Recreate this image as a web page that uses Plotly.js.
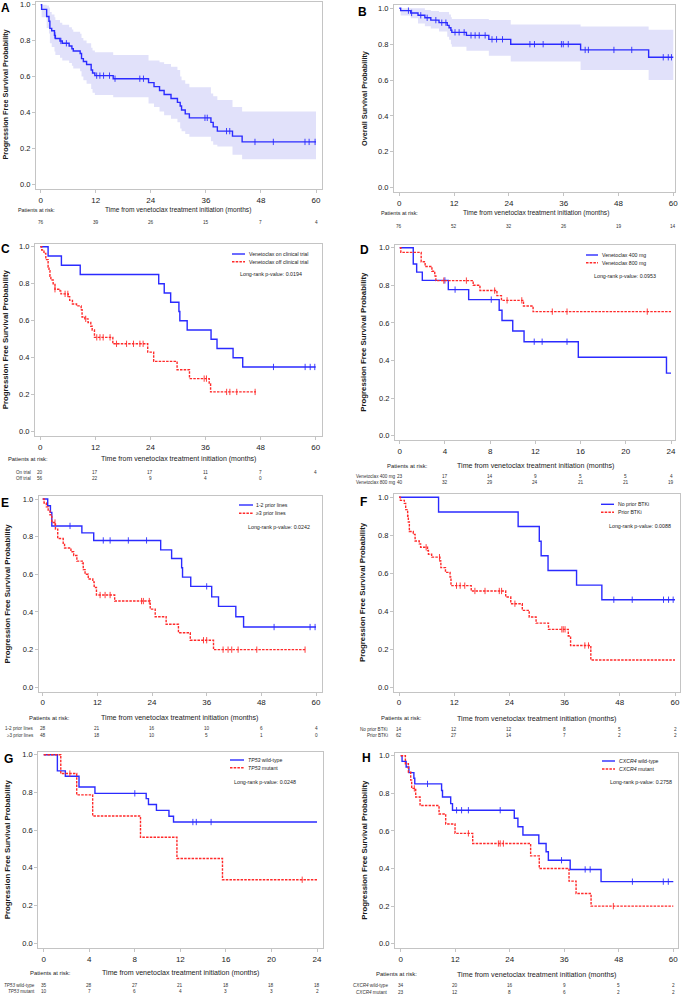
<!DOCTYPE html>
<html><head><meta charset="utf-8">
<script src="https://cdn.plot.ly/plotly-3.0.1.min.js"></script>
<style>html,body{margin:0;padding:0;background:#fff}#chart{width:685px;height:999px}</style>
</head><body><div id="chart"></div>
<script>
// ================= DATA =================
const ticks60 = [0, 12, 24, 36, 48, 60];
const ticks24 = [0, 4, 8, 12, 16, 20, 24];
const yTicks = [0, 0.2, 0.4, 0.6, 0.8, 1.0];

// A: PFS, all patients (with 95% CI)
const timeA  = [0,0.2,1.3,1.8,2.0,2.4,3.0,3.2,4.2,4.7,6.2,6.8,7.1,8.6,8.9,9.3,10.0,11.0,11.3,11.8,15.8,23.5,24.7,25.9,26.9,28.4,29.8,30.4,30.7,31.5,32.4,37.1,37.6,38.5,41.8,43.9,60];
const survA  = [1,.974,.934,.908,.868,.855,.829,.812,.798,.785,.770,.755,.742,.728,.700,.684,.667,.636,.620,.605,.588,.566,.544,.522,.500,.478,.456,.436,.414,.392,.370,.345,.320,.296,.268,.236,.236];
const upperA = [1,1,.995,.985,.96,.945,.93,.915,.90,.888,.875,.862,.85,.838,.815,.80,.785,.76,.745,.735,.72,.69,.69,.68,.67,.655,.636,.60,.58,.56,.54,.506,.49,.47,.43,.405,.405];
const lowerA = [1,.93,.87,.84,.785,.765,.74,.72,.705,.69,.675,.66,.645,.63,.60,.58,.56,.53,.51,.497,.484,.45,.43,.405,.385,.365,.345,.31,.295,.28,.265,.24,.22,.21,.165,.14,.14];
const censA  = [3.1,4.4,5.6,12.2,12.9,13.7,15.0,16.2,21.6,22.4,35.8,36.3,40.5,41.2,46.7,50.7,57.6,58.5,59.8];
const riskA  = [76, 39, 26, 15, 7, 4];

// B: OS, all patients (with 95% CI)
const timeB  = [0,0.3,2.5,4.1,5.6,6.9,8.7,10.5,10.9,11.3,11.5,14.7,19.6,24.4,39.7,54.6,60];
const survB  = [1,.987,.974,.961,.947,.934,.920,.905,.892,.878,.866,.849,.827,.800,.768,.727,.727];
const upperB = [1,1,1,1,.99,.985,.98,.98,.965,.95,.94,.94,.935,.91,.898,.88,.88];
const lowerB = [1,.96,.945,.915,.90,.888,.87,.842,.825,.80,.786,.764,.736,.703,.656,.60,.60];
const censB  = [2.0,2.7,4.7,6.1,8.0,9.3,10.2,12.2,13.1,14.2,15.7,16.6,17.5,18.8,20.3,21.3,22.6,28.6,29.6,31.5,35.5,35.9,37.0,40.7,41.4,47.0,50.9,57.8,58.9,59.6];
const riskB  = [76, 52, 32, 26, 19, 14];

// C: on vs off clinical trial
const timeC1 = [0,1.7,4.6,8.7,25.8,27.0,28.4,30.2,30.4,32.0,37.2,38.5,42.0,44.1,60];
const survC1 = [1,.95,.90,.85,.80,.75,.70,.65,.60,.55,.50,.45,.40,.35,.35];
const censC1 = [50.8,57.7,58.8,59.8];
const timeC2 = [0,0.3,0.8,1.2,1.7,1.9,2.1,2.3,2.8,3.2,4.3,4.5,6.1,6.4,7.0,7.9,8.9,9.1,9.7,10.4,11.0,11.3,11.8,15.8,23.4,24.7,29.8,32.5,36.8,37.1,47.0];
const survC2 = [1,.982,.964,.93,.89,.87,.84,.82,.80,.77,.76,.745,.73,.71,.69,.68,.66,.62,.61,.59,.57,.55,.51,.475,.43,.38,.335,.287,.258,.215,.215];
const censC2 = [3.2,5.4,6.0,9.9,12.3,13.0,13.7,15.2,16.6,18.8,20.3,21.7,22.4,35.7,36.2,40.6,41.3,42.8,46.8];
const riskC1 = [20, 17, 17, 11, 7, 4];
const riskC2 = [56, 22, 9, 4, 0];

// D: 400 mg vs 800 mg
const timeD1 = [0,1.2,1.5,2.0,4.3,6.1,8.8,9.05,10.0,11.0,15.8,23.6,24];
const survD1 = [1,.913,.87,.826,.777,.724,.667,.613,.557,.50,.417,.333,.333];
const censD1 = [4.0,4.9,8.1,11.9,12.6,14.8];
const timeD2 = [0,0.1,1.9,2.25,2.85,3.1,3.2,6.5,7.1,8.6,9.0,10.95,11.8,24];
const survD2 = [1,.975,.925,.90,.875,.85,.825,.80,.772,.745,.72,.69,.66,.66];
const censD2 = [3.9,5.9,8.4,9.5,10.8,13.5,14.8,21.9];
const riskD1 = [23, 17, 14, 9, 5, 5, 4];
const riskD2 = [40, 32, 29, 24, 21, 21, 19];

// E: 1-2 vs >=3 prior lines
const timeE1 = [0,1.1,1.7,2.0,8.6,11.2,25.9,28.3,30.5,30.7,32.5,37.1,38.6,42.4,44.1,60];
const survE1 = [1,.964,.929,.857,.82,.78,.73,.684,.635,.585,.536,.48,.43,.375,.32,.32];
const censE1 = [6.0,13.3,14.8,18.8,22.8,36.0,50.8,58.7,59.8];
const timeE2 = [0,0.3,0.8,1.2,1.6,2.0,2.8,3.3,4.5,4.8,6.2,6.8,7.5,8.7,8.9,9.3,10.0,11.0,11.3,11.8,15.8,23.6,24.7,27.1,29.8,32.4,37.5,57.6];
const survE2 = [1,.979,.958,.937,.916,.875,.84,.79,.765,.74,.72,.70,.67,.66,.625,.60,.575,.56,.53,.49,.458,.415,.375,.335,.29,.25,.20,.20];
const censE2 = [2.7,12.6,13.7,14.8,21.7,22.1,23.4,35.3,36.0,39.6,40.7,41.5,42.9,47.0,57.6];
const riskE1 = [28, 21, 16, 10, 6, 4];
const riskE2 = [48, 18, 10, 5, 1, 0];

// F: no prior BTKi vs prior BTKi
const timeF1 = [0,8.6,25.9,30.5,30.9,32.4,38.6,44.1,60];
const survF1 = [1,.923,.846,.769,.692,.615,.538,.461,.461];
const censF1 = [46.7,50.7,57.5,58.6,59.6];
const timeF2 = [0,0.3,1.16,1.45,1.88,2.03,2.25,3.1,3.5,4.4,4.7,6.2,6.4,7.1,8.9,9.1,10.1,11.1,11.3,15.7,23.2,24.3,26.8,28.3,29.8,32.5,36.8,37.3,41.7,60];
const survF2 = [1,.984,.968,.935,.90,.87,.82,.805,.77,.755,.737,.72,.70,.685,.665,.63,.605,.58,.535,.507,.475,.44,.405,.37,.338,.305,.27,.22,.144,.144];
const censF2 = [5.9,8.8,12.5,13.3,14.3,16.5,18.7,21.8,22.3,25.2,35.4,35.7,36.1,40.4,41.2];
const riskF1 = [14, 12, 12, 8, 5, 2];
const riskF2 = [62, 27, 14, 7, 2, 2];

// G: TP53 wild-type vs mutant
const timeG1 = [0,1.2,1.9,3.1,4.5,9.0,9.2,9.9,11.0,11.4,24];
const survG1 = [1,.914,.886,.829,.795,.767,.736,.705,.674,.643,.643];
const censG1 = [8.0,13.1,13.4,14.7];
const timeG2 = [0,1.5,2.9,4.3,8.5,11.7,15.7,24];
const survG2 = [1,.90,.787,.675,.562,.45,.337,.337];
const censG2 = [2.3,22.7];
const riskG1 = [35, 28, 27, 21, 18, 18, 18];
const riskG2 = [10, 7, 6, 4, 3, 3, 2];

// H: CXCR4 wild-type vs mutant
const timeH1 = [0,0.3,1.2,1.8,2.9,3.1,9.0,9.2,11.0,11.4,25.0,25.8,26.9,30.4,32.0,32.5,37.3,44.1,60];
const survH1 = [1,.97,.94,.91,.88,.85,.815,.78,.745,.71,.667,.622,.578,.533,.489,.444,.395,.33,.33];
const censH1 = [5.9,12.3,13.4,14.9,21.9,35.4,40.6,41.7,51.0,57.8,58.9];
const timeH2 = [0,1.03,1.69,2.2,2.42,3.3,4.26,8.44,9.9,11.96,15.85,28.6,30.5,37.05,38.6,41.9,60];
const survH2 = [1,.957,.913,.87,.826,.78,.735,.69,.637,.587,.533,.467,.40,.333,.267,.20,.20];
const censH2 = [3.0,14.9,21.5,21.9,22.6,46.8];
const riskH1 = [34, 20, 16, 9, 5, 2];
const riskH2 = [23, 12, 8, 6, 2, 2];

const pValues = {C: '0.0194', D: '0.0953', E: '0.0242', F: '0.0088', G: '0.0248', H: '0.2758'};

// ================= STYLE / LAYOUT =================
const W = 685, H = 999;
const FONT = 'Liberation Sans, Arial, sans-serif';
const BLUE = '#2b2bff', RED = '#ff2a2a', BAND = '#e1e1fa', FRAME = '#c4c4c4', TXT = '#1a1a1a';
const xt = 'Time from venetoclax treatment initiation (months)';
const pfs = 'Progression Free Survival Probability';

const panels = [
  {id:'A', L:36,R:321.7,T:1.7,B:189, xa:40.7,xb:316,ticks:ticks60, y1:4.7,y0:184.3, lx:5.5,ly:8.3, ytitle:pfs, ytx:5, yts:7.3, xty:210, xts:6.6, parx:36.5, pars:5.4,
   band:{t:timeA,u:upperA,l:lowerA}, series:[{t:timeA,s:survA,c:censA,col:BLUE}], rows:[{y:223,label:'',risk:riskA}]},
  {id:'B', L:394,R:674.5,T:4.5,B:192, xa:399.3,xb:673.3,ticks:ticks60, y1:8.3,y0:187.7, lx:362.5,ly:11.5, ytitle:'Overall Survival Probability', ytx:364, yts:7.3, xty:213, xts:6.6, parx:399.3, pars:5.4,
   band:{t:timeB,u:upperB,l:lowerB}, series:[{t:timeB,s:survB,c:censB,col:BLUE}], rows:[{y:226,label:'',risk:riskB}]},
  {id:'C', L:35,R:321.7,T:243.5,B:436, xa:40.3,xb:315.7,ticks:ticks60, y1:246.7,y0:431.7, lx:5,ly:249.5, ytitle:pfs, ytx:5, yts:7.8, xty:459, xts:7.0, parx:28, pars:5.8,
   series:[{t:timeC1,s:survC1,c:censC1,col:BLUE,name:'Venetoclax on clinical trial'},{t:timeC2,s:survC2,c:censC2,col:RED,dash:true,name:'Venetoclax off clinical trial'}],
   rows:[{y:472,label:'On trial',risk:riskC1},{y:479,label:'Off trial',risk:riskC2}], labR:33,
   leg:{L:232,R:245,tx:247,ry:[254,261.7],px:271,py:274.3}},
  {id:'D', L:395,R:675,T:244.5,B:440, xa:399.7,xb:671,ticks:ticks24, y1:247.7,y0:435.7, lx:364.5,ly:250, ytitle:pfs, ytx:364, yts:7.8, xty:465.7, xts:7.1, parx:407, pars:5.9,
   series:[{t:timeD1,s:survD1,c:censD1,col:BLUE,name:'Venetoclax 400 mg'},{t:timeD2,s:survD2,c:censD2,col:RED,dash:true,name:'Venetoclax 800 mg'}],
   rows:[{y:476.7,label:'Venetoclax 400 mg',risk:riskD1},{y:482.7,label:'Venetoclax 800 mg',risk:riskD2}], labR:398,
   leg:{L:586,R:598,tx:600,ry:[255,262.7],px:624.5,py:275.7}},
  {id:'E', L:38.7,R:321.7,T:495.5,B:691.5, xa:42.7,xb:316,ticks:ticks60, y1:499,y0:687.3, lx:5,ly:503, ytitle:pfs, ytx:7.3, yts:7.8, xty:718, xts:7.1, parx:50, pars:5.9,
   series:[{t:timeE1,s:survE1,c:censE1,col:BLUE,name:'1-2 prior lines'},{t:timeE2,s:survE2,c:censE2,col:RED,dash:true,name:'≥3 prior lines'}],
   rows:[{y:728.7,label:'1-2 prior lines',risk:riskE1},{y:735,label:'≥3 prior lines',risk:riskE2}], labR:36,
   leg:{L:239,R:253,tx:254,ry:[505,513.3],px:278.5,py:527}},
  {id:'F', L:394,R:680,T:494.3,B:691.5, xa:399,xb:675,ticks:ticks60, y1:497.3,y0:687.3, lx:363.3,ly:502, ytitle:pfs, ytx:362.7, yts:7.8, xty:718, xts:7.2, parx:401.3, pars:5.9,
   series:[{t:timeF1,s:survF1,c:censF1,col:BLUE,name:'No prior BTKi'},{t:timeF2,s:survF2,c:censF2,col:RED,dash:true,name:'Prior BTKi'}],
   rows:[{y:729.3,label:'No prior BTKi',risk:riskF1},{y:735.7,label:'Prior BTKi',risk:riskF2}], labR:390,
   leg:{L:601,R:614,tx:616,ry:[504.3,512.3],px:640,py:526}},
  {id:'G', L:38.3,R:322.7,T:751.7,B:948, xa:43.7,xb:317,ticks:ticks24, y1:754.7,y0:943.3, lx:8.5,ly:758.5, ytitle:pfs, ytx:7.3, yts:7.8, xty:972.7, xts:7.1, parx:50.3, pars:5.9,
   series:[{t:timeG1,s:survG1,c:censG1,col:BLUE,name:'<i>TP53</i> wild-type'},{t:timeG2,s:survG2,c:censG2,col:RED,dash:true,name:'<i>TP53</i> mutant'}],
   rows:[{y:985,label:'<i>TP53</i> wild-type',risk:riskG1},{y:991.7,label:'<i>TP53</i> mutant',risk:riskG2}], labR:37,
   leg:{L:230,R:244,tx:245.7,ry:[760,767.7],px:264.7,py:781.7}},
  {id:'H', L:395,R:678.3,T:752.7,B:948, xa:400.7,xb:673.3,ticks:ticks60, y1:755.7,y0:943.7, lx:366.2,ly:758, ytitle:pfs, ytx:365, yts:7.8, xty:974.3, xts:7.2, parx:396.5, pars:6.0,
   series:[{t:timeH1,s:survH1,c:censH1,col:BLUE,name:'<i>CXCR4</i> wild-type'},{t:timeH2,s:survH2,c:censH2,col:RED,dash:true,name:'<i>CXCR4</i> mutant'}],
   rows:[{y:985,label:'<i>CXCR4</i> wild-type',risk:riskH1},{y:992.3,label:'<i>CXCR4</i> mutant',risk:riskH2}], labR:390,
   leg:{L:602,R:615,tx:616.7,ry:[761,769],px:641,py:782.3}}
];

function stepAt(t, s, v) {
  let r = s[0];
  for (let i = 0; i < t.length; i++) { if (t[i] <= v) r = s[i]; else break; }
  return r;
}
const px2x = p => p / W;
const px2y = p => 1 - p / H;

const traces = [], annotations = [], shapes = [];
const layout = {
  width: W, height: H, margin: {l:0, r:0, t:0, b:0},
  paper_bgcolor: '#fff', plot_bgcolor: '#fff', showlegend: false,
  font: {family: FONT, color: TXT}
};

panels.forEach((p, i) => {
  const n = i === 0 ? '' : String(i + 1);
  const xa = 'x' + n, ya = 'y' + n;
  const vmax = p.ticks[p.ticks.length - 1];
  const ppm = (p.xb - p.xa) / vmax;
  const ppu = (p.y0 - p.y1);
  layout['xaxis' + n] = {
    domain: [px2x(p.L), px2x(p.R)], anchor: ya,
    range: [(p.L - p.xa) / ppm, (p.R - p.xa) / ppm],
    tickmode: 'array', tickvals: p.ticks, ticktext: p.ticks.map(String),
    showline: true, mirror: true, linecolor: FRAME, linewidth: 1,
    ticks: 'outside', ticklen: 3, tickcolor: FRAME, tickwidth: 1,
    showgrid: false, zeroline: false, fixedrange: true,
    tickfont: {family: FONT, size: 8, color: TXT}
  };
  layout['yaxis' + n] = {
    domain: [px2y(p.B), px2y(p.T)], anchor: xa,
    range: [(p.y0 - p.B) / ppu, (p.y0 - p.T) / ppu],
    tickmode: 'array', tickvals: yTicks, tickformat: '.1f',
    showline: true, mirror: true, linecolor: FRAME, linewidth: 1,
    ticks: 'outside', ticklen: 3, tickcolor: FRAME, tickwidth: 1,
    showgrid: false, zeroline: false, fixedrange: true,
    tickfont: {family: FONT, size: 7.5, color: TXT}
  };

  if (p.band) {
    traces.push({type:'scatter', mode:'lines', x:p.band.t, y:p.band.l, xaxis:xa, yaxis:ya,
      line:{shape:'hv', width:0, color:BAND}, hoverinfo:'skip'});
    traces.push({type:'scatter', mode:'lines', x:p.band.t, y:p.band.u, xaxis:xa, yaxis:ya,
      line:{shape:'hv', width:0, color:BAND}, fill:'tonexty', fillcolor:BAND, hoverinfo:'skip'});
  }
  p.series.forEach(s => {
    traces.push({type:'scatter', mode:'lines', x:s.t, y:s.s, xaxis:xa, yaxis:ya,
      line:{shape:'hv', width:1.4, color:s.col, dash: s.dash ? '2.5px,1.2px' : 'solid'}, name: s.name || ''});
    traces.push({type:'scatter', mode:'markers', x:s.c, y:s.c.map(v => stepAt(s.t, s.s, v)), xaxis:xa, yaxis:ya,
      marker:{symbol:'line-ns-open', size:4.5, color:s.col, line:{width:0.9, color:s.col}}, hoverinfo:'skip'});
  });

  // panel letter
  annotations.push({xref:'paper', yref:'paper', x:px2x(p.lx), y:px2y(p.ly), text:'<b>' + p.id + '</b>',
    showarrow:false, xanchor:'center', yanchor:'middle', font:{family:FONT, size:12, color:'#000'}});
  // y title
  annotations.push({xref:'paper', yref:'paper', x:px2x(p.ytx), y:px2y((p.y0 + p.y1) / 2), text:'<b>' + p.ytitle + '</b>',
    textangle:-90, showarrow:false, xanchor:'center', yanchor:'middle', font:{family:FONT, size:p.yts, color:TXT}});
  // x title
  annotations.push({xref:xa, yref:'paper', x:vmax / 2, y:px2y(p.xty), text:xt,
    showarrow:false, xanchor:'center', yanchor:'middle', font:{family:FONT, size:p.xts, color:TXT}});
  // patients at risk
  annotations.push({xref:'paper', yref:'paper', x:px2x(p.parx), y:px2y(p.xty), text:'Patients at risk:',
    showarrow:false, xanchor:'center', yanchor:'middle', font:{family:FONT, size:p.pars, color:TXT}});
  p.rows.forEach(r => {
    r.risk.forEach((v, k) => {
      annotations.push({xref:xa, yref:'paper', x:p.ticks[k], y:px2y(r.y), text:String(v),
        showarrow:false, xanchor:'center', yanchor:'middle', font:{family:FONT, size:4.7, color:'#333'}});
    });
    if (r.label) {
      annotations.push({xref:'paper', yref:'paper', x:px2x(p.labR), y:px2y(r.y), text:r.label,
        showarrow:false, xanchor:'right', yanchor:'middle', font:{family:FONT, size:4.6, color:'#333'}});
    }
  });
  if (p.leg) {
    p.series.forEach((s, k) => {
      shapes.push({type:'line', xref:'paper', yref:'paper', x0:px2x(p.leg.L), x1:px2x(p.leg.R),
        y0:px2y(p.leg.ry[k]), y1:px2y(p.leg.ry[k]),
        line:{color:s.col, width:1.4, dash: s.dash ? '2.5px,1.2px' : 'solid'}});
      annotations.push({xref:'paper', yref:'paper', x:px2x(p.leg.tx), y:px2y(p.leg.ry[k]), text:s.name,
        showarrow:false, xanchor:'left', yanchor:'middle', font:{family:FONT, size:5.2, color:TXT}});
    });
    annotations.push({xref:'paper', yref:'paper', x:px2x(p.leg.px), y:px2y(p.leg.py), text:'Long-rank p-value: ' + pValues[p.id],
      showarrow:false, xanchor:'center', yanchor:'middle', font:{family:FONT, size:5.3, color:TXT}});
  }
});

layout.annotations = annotations;
layout.shapes = shapes;
Plotly.newPlot('chart', traces, layout, {staticPlot: true, displayModeBar: false});
</script>
</body></html>
